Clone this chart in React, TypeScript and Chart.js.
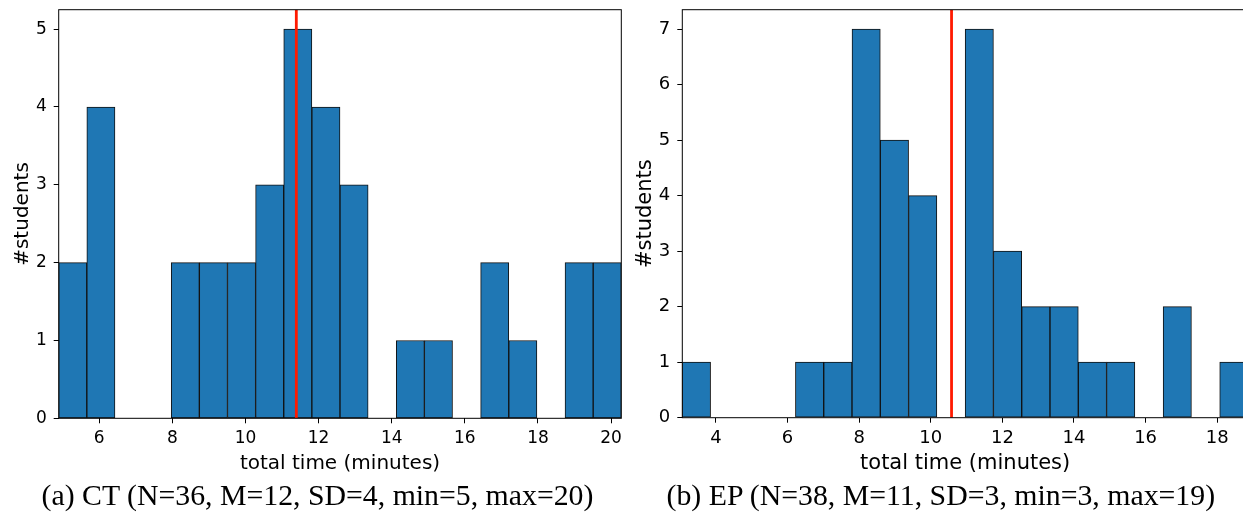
import React, { useEffect, useRef } from "react";
import { Chart, registerables } from "chart.js";

Chart.register(...registerables);

// ---- Data: CT panel ----
const ctCounts = [2, 4, 0, 0, 2, 2, 2, 3, 5, 4, 3, 0, 1, 1, 0, 2, 1, 0, 2, 2];
const ctBinStart = 4.89;
const ctBinWidth = 0.7695;
const ctMean = 11.39;
const ctXTicks = [6, 8, 10, 12, 14, 16, 18, 20];
const ctYTicks = [0, 1, 2, 3, 4, 5];
const ctCaption = "(a) CT (N=36, M=12, SD=4, min=5, max=20)";

// ---- Data: EP panel ----
const epCounts = [1, 0, 0, 0, 1, 1, 7, 5, 4, 0, 7, 3, 2, 2, 1, 1, 0, 2, 0, 1];
const epBinStart = 3.06;
const epBinWidth = 0.79;
const epMean = 10.58;
const epXTicks = [4, 6, 8, 10, 12, 14, 16, 18];
const epYTicks = [0, 1, 2, 3, 4, 5, 6, 7];
const epCaption = "(b) EP (N=38, M=11, SD=3, min=3, max=19)";

const xTitle = "total time (minutes)";
const yTitle = "#students";

const framePlugin = {
  id: "frame",
  afterDraw(chart: any) {
    const { ctx, chartArea: a } = chart;
    ctx.save();
    ctx.strokeStyle = "#000";
    ctx.lineWidth = 1;
    ctx.strokeRect(a.left, a.top, a.right - a.left, a.bottom - a.top);
    ctx.restore();
  },
};

type PanelProps = {
  counts: number[];
  binStart: number;
  binWidth: number;
  mean: number;
  xTicks: number[];
  yTicks: number[];
  width: number;
  height: number;
  yAxisWidth: number;
  xAxisHeight: number;
  padTop: number;
  padRight: number;
  tickSize: number;
  titleSize: number;
  yTitlePad: number;
  xTitlePad: number;
  left: number;
};

function zeroPad(s: any) {
  s.paddingTop = 0;
  s.paddingBottom = 0;
  s.paddingLeft = 0;
  s.paddingRight = 0;
}

function Histogram(p: PanelProps) {
  const ref = useRef<HTMLCanvasElement | null>(null);
  useEffect(() => {
    if (!ref.current) return;
    const centers = p.counts.map((_, i) => p.binStart + (i + 0.5) * p.binWidth);
    const xMin = p.binStart;
    const xMax = p.binStart + p.counts.length * p.binWidth;
    const yMax = Math.max(...p.counts) * 1.05;
    const tickFont = { family: "'DejaVu Sans'", size: p.tickSize };
    const titleFont = { family: "'DejaVu Sans'", size: p.titleSize };
    const chart = new Chart(ref.current, {
      type: "bar",
      data: {
        datasets: [
          {
            type: "line",
            data: [
              { x: p.mean, y: 0 },
              { x: p.mean, y: yMax },
            ],
            borderColor: "#ff1a00",
            borderWidth: 2.8,
            pointRadius: 0,
            order: 0,
          } as any,
          {
            type: "bar",
            data: centers.map((c, i) => ({ x: c, y: p.counts[i] })),
            backgroundColor: "#1f77b4",
            borderColor: "#111",
            borderWidth: 1,
            borderSkipped: false,
            barPercentage: 1,
            categoryPercentage: 1,
            order: 1,
          } as any,
        ],
      },
      options: {
        animation: false,
        responsive: false,
        maintainAspectRatio: false,
        devicePixelRatio: 1,
        layout: { padding: { left: 0, top: p.padTop, right: p.padRight, bottom: 0 } },
        plugins: { legend: { display: false }, tooltip: { enabled: false } },
        scales: {
          x: {
            type: "linear",
            min: xMin,
            max: xMax,
            offset: false,
            afterBuildTicks: (s: any) => {
              s.ticks = p.xTicks.map((v) => ({ value: v }));
            },
            afterFit: (s: any) => {
              s.height = p.xAxisHeight;
              zeroPad(s);
            },
            grid: {
              offset: false,
              drawOnChartArea: false,
              drawTicks: true,
              tickLength: 5,
              tickColor: "#000",
              tickWidth: 1,
            },
            border: { display: false },
            ticks: {
              font: tickFont,
              color: "#000",
              padding: 5,
              maxRotation: 0,
              autoSkip: false,
              callback: (v: any) => String(v),
            },
            title: {
              display: true,
              text: xTitle,
              font: titleFont,
              color: "#000",
              padding: { top: 0, bottom: p.xTitlePad },
            },
          },
          y: {
            type: "linear",
            min: 0,
            max: yMax,
            afterBuildTicks: (s: any) => {
              s.ticks = p.yTicks.map((v) => ({ value: v }));
            },
            afterFit: (s: any) => {
              s.width = p.yAxisWidth;
              zeroPad(s);
            },
            grid: {
              offset: false,
              drawOnChartArea: false,
              drawTicks: true,
              tickLength: 5,
              tickColor: "#000",
              tickWidth: 1,
            },
            border: { display: false },
            ticks: {
              font: tickFont,
              color: "#000",
              padding: 7,
              autoSkip: false,
              callback: (v: any) => String(v),
            },
            title: {
              display: true,
              text: yTitle,
              font: titleFont,
              color: "#000",
              padding: { top: p.yTitlePad, bottom: 0 },
            },
          },
        },
      } as any,
      plugins: [framePlugin],
    });
    return () => chart.destroy();
  }, []);
  return (
    <canvas
      ref={ref}
      width={p.width}
      height={p.height}
      style={{ position: "absolute", left: p.left, top: 0, width: p.width, height: p.height }}
    />
  );
}

const captionStyle = (center: number): React.CSSProperties => ({
  position: "absolute",
  left: center - 320,
  width: 640,
  top: 479.5,
  textAlign: "center",
  fontFamily: "'Liberation Serif', serif",
  fontSize: "29.8px",
  lineHeight: "30px",
  color: "#000",
  whiteSpace: "nowrap",
});

export default function App() {
  return (
    <div
      style={{
        position: "absolute",
        left: 0,
        top: 0,
        width: 1243,
        height: 514,
        overflow: "hidden",
        background: "#fff",
      }}
    >
      <Histogram
        counts={ctCounts}
        binStart={ctBinStart}
        binWidth={ctBinWidth}
        mean={ctMean}
        xTicks={ctXTicks}
        yTicks={ctYTicks}
        width={630}
        height={480}
        yAxisWidth={58.7}
        xAxisHeight={61.7}
        padTop={9.7}
        padRight={8.7}
        tickSize={17}
        titleSize={20}
        yTitlePad={10.5}
        xTitlePad={4}
        left={0}
      />
      <Histogram
        counts={epCounts}
        binStart={epBinStart}
        binWidth={epBinWidth}
        mean={epMean}
        xTicks={epXTicks}
        yTicks={epYTicks}
        width={640}
        height={480}
        yAxisWidth={52.3}
        xAxisHeight={62.3}
        padTop={9.7}
        padRight={22}
        tickSize={18}
        titleSize={21}
        yTitlePad={3}
        xTitlePad={3.4}
        left={630}
      />
      <div style={captionStyle(317.5)}>{ctCaption}</div>
      <div style={captionStyle(940.8)}>{epCaption}</div>
    </div>
  );
}
